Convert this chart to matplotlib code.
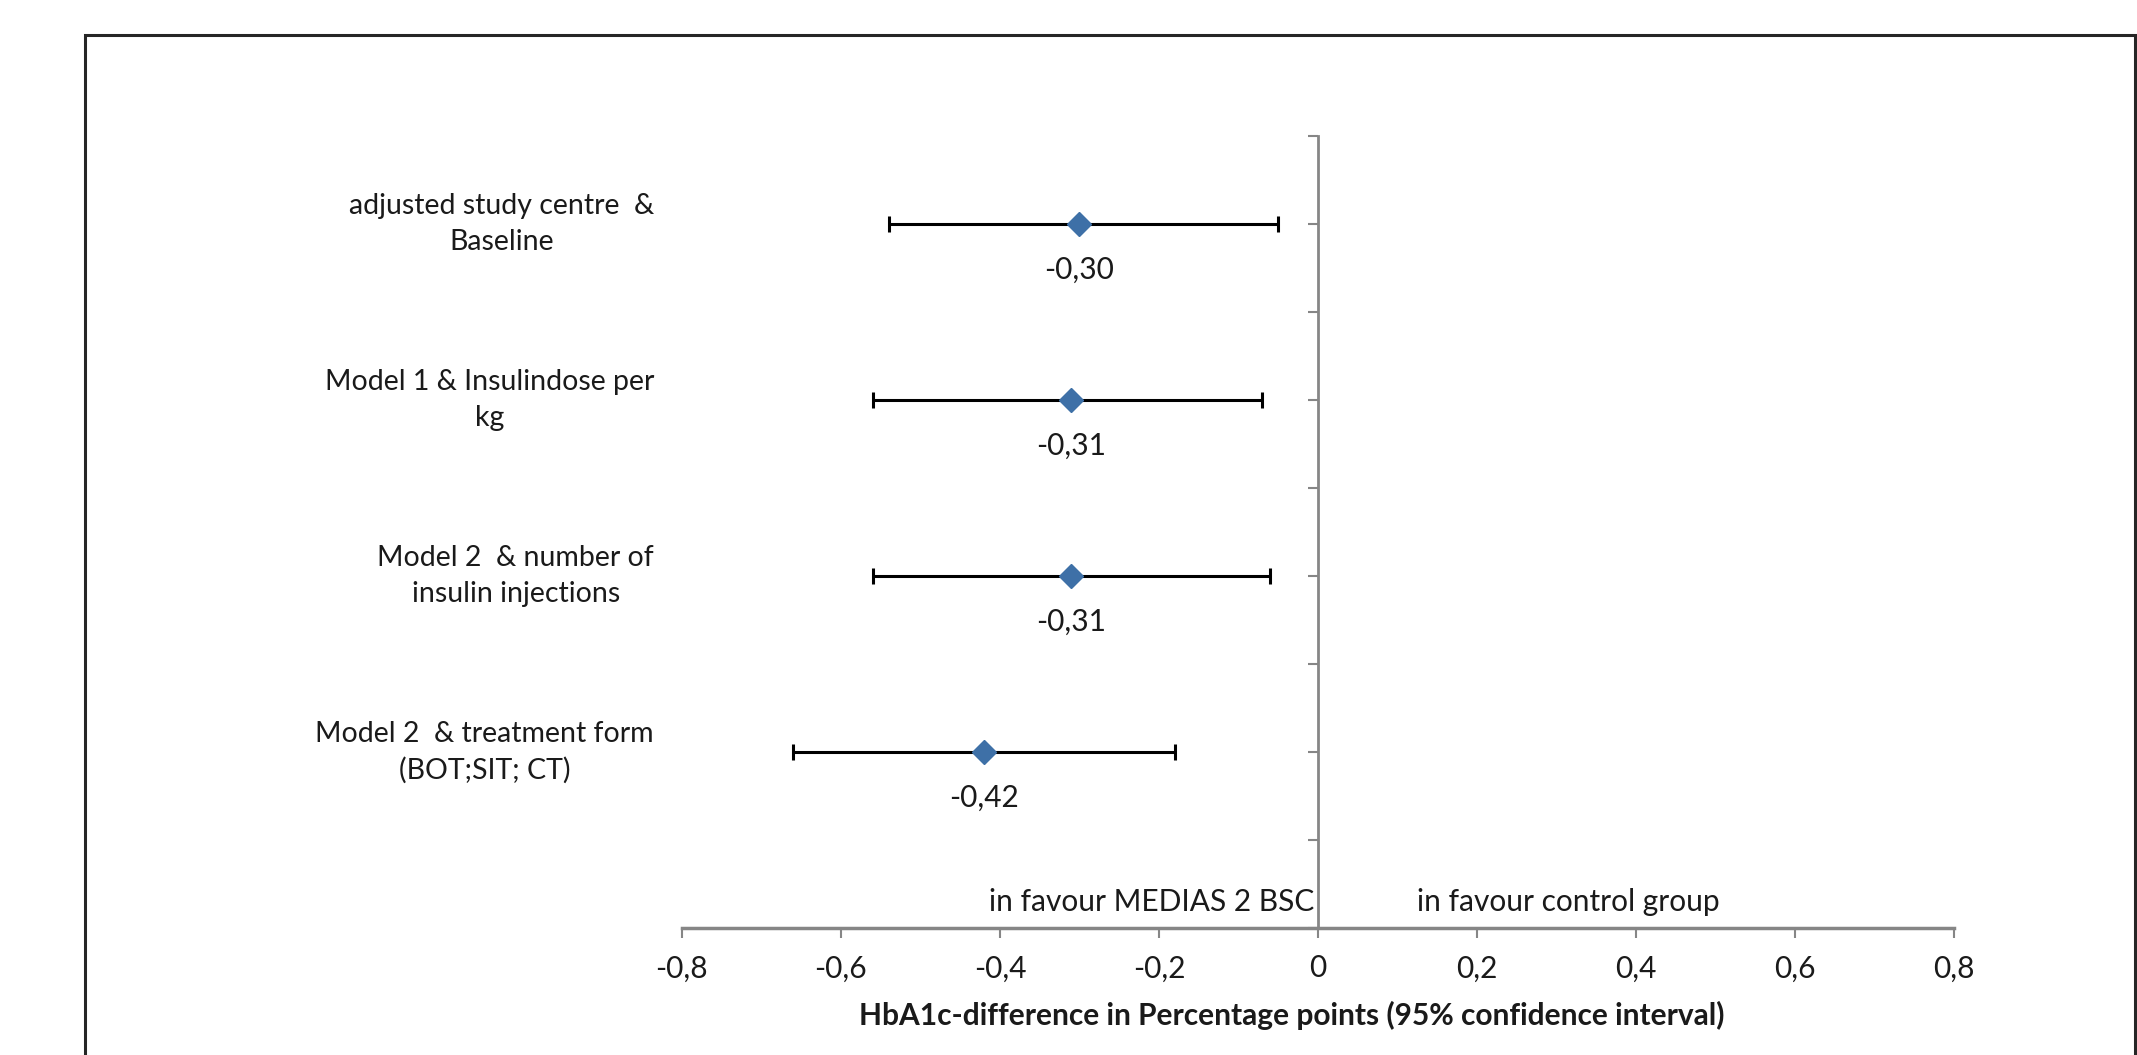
import matplotlib
matplotlib.use("Agg")
import matplotlib.pyplot as plt
from matplotlib.patches import Rectangle
from matplotlib.transforms import blended_transform_factory

plt.rcParams["font.family"] = ["Lato", "DejaVu Sans"]

# forest plot data (HbA1c difference, 95% CI)
models = ["adjusted study centre  &\nBaseline",
          "Model 1 & Insulindose per\nkg",
          "Model 2  & number of\ninsulin injections",
          "Model 2  & treatment form\n(BOT;SIT; CT)"]
ypos = [8, 6, 4, 2]
est = [-0.30, -0.31, -0.31, -0.42]
ci_low = [-0.54, -0.56, -0.56, -0.66]
ci_high = [-0.05, -0.07, -0.06, -0.18]
xticks = [-0.8, -0.6, -0.4, -0.2, 0, 0.2, 0.4, 0.6, 0.8]
xticklabels = ["-0,8", "-0,6", "-0,4", "-0,2", "0", "0,2", "0,4", "0,6", "0,8"]

GRAY = "#868686"
BLUE = "#3E70A7"
TXT = "#1a1a1a"
FS = 21.5

fig = plt.figure(figsize=(21.37, 10.55), dpi=100)
ax = fig.add_axes([0.3191, 0.1204, 0.5952, 0.7507])

xerr = [[e - l for e, l in zip(est, ci_low)], [h - e for e, h in zip(est, ci_high)]]
ax.errorbar(est, ypos, xerr=xerr, fmt="none", ecolor="black", elinewidth=2.2,
            capsize=6, capthick=2.2, zorder=2)
ax.plot(est, ypos, linestyle="none", marker="D", markersize=12.5, color=BLUE, zorder=3)

for x, y in zip(est, ypos):
    ax.annotate(f"{x:.2f}".replace(".", ","), (x, y), xytext=(0, -33),
                textcoords="offset points", ha="center", va="center", fontsize=FS, color=TXT)

ax.set_xlim(-0.8, 0.8)
ax.set_ylim(0, 9)
ax.set_xticks(xticks)
ax.set_xticklabels(xticklabels, fontsize=FS, color=TXT)
ax.set_yticks(range(0, 10))
ax.set_yticklabels([])
ax.tick_params(axis="x", direction="out", length=7, width=1.5, color=GRAY, pad=12)
ax.tick_params(axis="y", direction="out", length=7, width=1.5, color=GRAY)

for s in ["top", "right"]:
    ax.spines[s].set_visible(False)
ax.spines["left"].set_position(("data", 0))
ax.spines["left"].set_color(GRAY)
ax.spines["left"].set_linewidth(2)
ax.spines["bottom"].set_color(GRAY)
ax.spines["bottom"].set_linewidth(2.5)

# category labels left of the plot
tr = blended_transform_factory(fig.transFigure, ax.transData)
for lab, y in zip(models, ypos):
    ax.text(654 / 2137, y, lab, transform=tr, ha="right", va="center",
            multialignment="center", fontsize=20.5, color=TXT, linespacing=1.45)

ax.text(-0.005, 0.3, "in favour MEDIAS 2 BSC", ha="right", va="center", fontsize=21.5, color=TXT)
ax.text(0.125, 0.3, "in favour control group", ha="left", va="center", fontsize=21.5, color=TXT)

fig.text(1292 / 2137, 1 - 1015 / 1055, "HbA1c-difference in Percentage points (95% confidence interval)",
         ha="center", va="center", fontsize=FS, fontweight="bold", color=TXT)

# outer frame
fig.patches.append(Rectangle((85 / 2137, -0.05), (2135 - 85) / 2137, 1.05 - 35 / 1055,
                             transform=fig.transFigure, fill=False, edgecolor="#262626",
                             linewidth=2.2, clip_on=False))

fig.savefig("out.png", dpi=100)
